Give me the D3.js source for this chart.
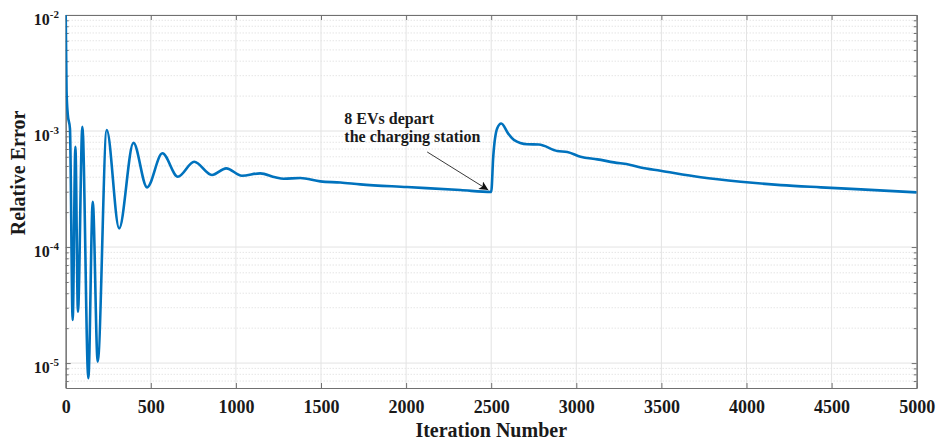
<!DOCTYPE html>
<html>
<head>
<meta charset="utf-8">
<script src="https://cdn.jsdelivr.net/npm/d3@7"></script>
<style>
  body { margin: 0; background: #fff; }
  text { font-family: "Liberation Serif", "Times New Roman", serif; font-weight: bold; fill: #1a1a1a; }
</style>
</head>
<body>
<div id="chart"></div>
<script>
// iteration index and relative error
const iterations = [0, 5, 12, 25, 41, 57, 72, 98, 133, 159, 188, 241, 314, 398, 478, 568, 659, 755,
  859, 943, 1035, 1143, 1231, 1280, 1378, 1496, 1614, 1731, 2005, 2319, 2500, 2512, 2535, 2559,
  2600, 2633, 2712, 2780, 2888, 2947, 3025, 3124, 3221, 3319, 3378, 3495, 3731, 3966, 4202, 4437, 4672, 5000];
const relErr = [1.0e-2, 2.2e-3, 1.4e-3, 1.05e-3, 2.35e-5, 7.3e-4, 2.77e-5, 1.09e-3, 7.4e-6, 2.46e-4, 1.03e-5,
  1.02e-3, 1.45e-4, 7.9e-4, 3.27e-4, 6.43e-4, 4.04e-4, 5.43e-4,
  4.18e-4, 4.77e-4, 4.12e-4, 4.32e-4, 3.99e-4, 3.88e-4, 3.94e-4, 3.68e-4, 3.6e-4, 3.47e-4, 3.29e-4, 3.1e-4, 2.98e-4, 6.0e-4, 1.05e-3, 1.16e-3,
  9.5e-4, 8.4e-4, 7.7e-4, 7.65e-4, 6.73e-4, 6.6e-4, 6.0e-4, 5.7e-4, 5.37e-4, 5.1e-4, 4.85e-4, 4.55e-4, 4.0e-4, 3.66e-4, 3.42e-4, 3.27e-4, 3.14e-4, 2.96e-4];

const xTicks = [0, 500, 1000, 1500, 2000, 2500, 3000, 3500, 4000, 4500, 5000];
const yMajor = [1e-5, 1e-4, 1e-3, 1e-2];
const yExponents = ["-5", "-4", "-3", "-2"];
const xTitle = "Iteration Number";
const yTitle = "Relative Error";
const noteLines = ["8 EVs depart", "the charging station"];
const notePos = [1637, 1.14e-3];
const arrowFrom = [2124, 6.6e-4];
const arrowTo = [2483, 3.1e-4];

const width = 937, height = 442;
const plotLeft = 65.7, plotRight = 916.7, plotTop = 15, plotBottom = 388;

let svg = d3.select("#chart").append("svg")
  .attr("width", width)
  .attr("height", height);

let x = d3.scaleLinear().domain([0, 5000]).range([plotLeft, plotRight]);
let y = d3.scaleLog().domain([6.1e-6, 1e-2]).range([plotBottom, plotTop]);

// minor log ticks
let yMinor = [];
for (let e = -6; e <= -3; e++) {
  for (let m = 2; m <= 9; m++) {
    let v = m * Math.pow(10, e);
    if (v >= y.domain()[0] && v <= y.domain()[1]) yMinor.push(v);
  }
}

let defs = svg.append("defs");
defs.append("clipPath").attr("id", "plot-clip")
  .append("rect").attr("x", plotLeft).attr("y", plotTop).attr("width", plotRight - plotLeft).attr("height", plotBottom - plotTop);
defs.append("marker")
  .attr("id", "arrowhead")
  .attr("viewBox", "0 0 10 10")
  .attr("refX", 10).attr("refY", 5)
  .attr("markerWidth", 12).attr("markerHeight", 9)
  .attr("markerUnits", "userSpaceOnUse")
  .attr("orient", "auto")
  .append("path").attr("d", "M0,0 L10,5 L0,10 L2.5,5 Z").attr("fill", "#111");

// grid
let grid = svg.append("g");
grid.selectAll(".ymin").data(yMinor).enter().append("line")
  .attr("x1", plotLeft).attr("x2", plotRight)
  .attr("y1", d => y(d)).attr("y2", d => y(d))
  .attr("stroke", "#cfcfcf").attr("stroke-width", 0.8).attr("stroke-dasharray", "1,2");
grid.selectAll(".ymaj").data(yMajor).enter().append("line")
  .attr("x1", plotLeft).attr("x2", plotRight)
  .attr("y1", d => y(d)).attr("y2", d => y(d))
  .attr("stroke", "#e3e3e3").attr("stroke-width", 1);
grid.selectAll(".xmaj").data(xTicks).enter().append("line")
  .attr("x1", d => x(d)).attr("x2", d => x(d))
  .attr("y1", plotTop).attr("y2", plotBottom)
  .attr("stroke", "#e3e3e3").attr("stroke-width", 1);

// axes (inward ticks, box on)
function styleAxis(g) {
  g.select(".domain").attr("stroke", "#707070");
  g.selectAll(".tick line").attr("stroke", "#707070");
}
svg.append("g").attr("transform", `translate(0,${plotBottom})`)
  .call(d3.axisBottom(x).tickValues(xTicks).tickSize(-5).tickSizeOuter(0).tickPadding(12).tickFormat(d3.format("d")))
  .call(styleAxis)
  .call(g => g.selectAll("text").attr("font-size", 18).attr("fill", "#1a1a1a")
    .attr("font-family", "Liberation Serif, Times New Roman, serif").attr("font-weight", "bold"));
svg.append("g").attr("transform", `translate(0,${plotTop})`)
  .call(d3.axisTop(x).tickValues(xTicks).tickSize(-5).tickSizeOuter(0).tickFormat(""))
  .call(styleAxis);
svg.append("g").attr("transform", `translate(${plotLeft},0)`)
  .call(d3.axisLeft(y).tickValues(yMajor).tickSize(-5).tickSizeOuter(0).tickFormat(""))
  .call(styleAxis);
svg.append("g").attr("transform", `translate(${plotLeft},0)`)
  .call(d3.axisLeft(y).tickValues(yMinor).tickSize(-3).tickSizeOuter(0).tickFormat(""))
  .call(styleAxis);
svg.append("g").attr("transform", `translate(${plotRight},0)`)
  .call(d3.axisRight(y).tickValues(yMajor).tickSize(-5).tickSizeOuter(0).tickFormat(""))
  .call(styleAxis);
svg.append("g").attr("transform", `translate(${plotRight},0)`)
  .call(d3.axisRight(y).tickValues(yMinor).tickSize(-3).tickSizeOuter(0).tickFormat(""))
  .call(styleAxis);

// y tick labels with superscript exponents
let ylab = svg.append("g").selectAll("text").data(yMajor).enter().append("text")
  .attr("x", 59).attr("y", d => y(d) + 10)
  .attr("text-anchor", "end")
  .attr("font-size", 16);
ylab.append("tspan").text("10");
ylab.append("tspan").attr("font-size", 11).attr("dy", -7).text((d, i) => yExponents[i]);

// axis titles
svg.append("text")
  .attr("x", (plotLeft + plotRight) / 2).attr("y", 437)
  .attr("text-anchor", "middle").attr("font-size", 20)
  .text(xTitle);
svg.append("text")
  .attr("transform", "translate(25,173) rotate(-90)")
  .attr("text-anchor", "middle").attr("font-size", 20)
  .text(yTitle);

// series
let points = iterations.map((it, i) => [it, relErr[i]]);
svg.append("path")
  .datum(points)
  .attr("clip-path", "url(#plot-clip)")
  .attr("d", d3.line()
    .x(d => x(d[0]))
    .y(d => y(d[1]))
    .curve(d3.curveMonotoneX))
  .attr("fill", "none")
  .attr("stroke", "#0072BD")
  .attr("stroke-width", 2.6)
  .attr("stroke-linejoin", "round");

// annotation
let note = svg.append("text")
  .attr("x", x(notePos[0])).attr("y", y(notePos[1]))
  .attr("font-size", 16);
note.selectAll("tspan").data(noteLines).enter().append("tspan")
  .attr("x", x(notePos[0]))
  .attr("dy", (d, i) => i === 0 ? 0 : 18)
  .text(d => d);
svg.append("line")
  .attr("x1", x(arrowFrom[0])).attr("y1", y(arrowFrom[1]))
  .attr("x2", x(arrowTo[0])).attr("y2", y(arrowTo[1]))
  .attr("stroke", "#222").attr("stroke-width", 0.9)
  .attr("marker-end", "url(#arrowhead)");
</script>
</body>
</html>
